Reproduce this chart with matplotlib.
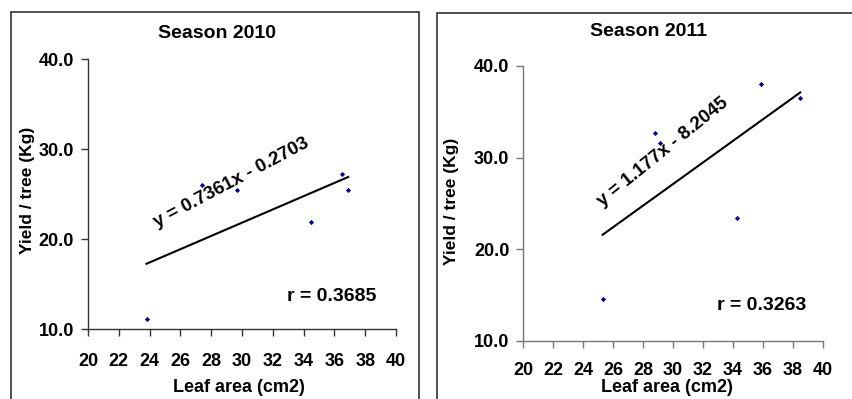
import matplotlib
matplotlib.use("Agg")
import matplotlib.pyplot as plt
from matplotlib.patches import Rectangle
import numpy as np

plt.rcParams['font.family'] = ['Liberation Sans', 'DejaVu Sans']
plt.rcParams['font.weight'] = 'bold'

# Data
x2010 = [23.8, 27.4, 29.65, 34.5, 36.5, 36.9]
y2010 = [11.1, 26.0, 25.5, 21.9, 27.2, 25.4]
x2011 = [25.3, 28.8, 29.1, 34.3, 35.9, 38.5]
y2011 = [14.5, 32.7, 31.6, 23.4, 38.0, 36.5]

slope2010, icpt2010 = 0.7361, -0.2703
slope2011, icpt2011 = 1.177, -8.2045
r2010, r2011 = "r = 0.3685", "r = 0.3263"
eq2010 = "y = 0.7361x - 0.2703"
eq2011 = "y = 1.177x - 8.2045"
titles = ["Season 2010", "Season 2011"]
xticks = list(range(20, 41, 2))
yticks = [10, 20, 30, 40]
xlabel = "Leaf area (cm2)"
ylabel = "Yield / tree (Kg)"

W, H = 853, 399
fig = plt.figure(figsize=(W / 100, H / 100), dpi=100)

# panel frames
fig.patches.append(Rectangle((11 / W, -0.05), (418.7 - 11) / W, 0.05 + 1 - 12 / H,
                             transform=fig.transFigure, fill=False,
                             edgecolor='#333333', linewidth=1.2))
fig.patches.append(Rectangle((436.7 / W, -0.05), 0.6, 0.05 + 1 - 13 / H,
                             transform=fig.transFigure, fill=False,
                             edgecolor='#333333', linewidth=1.2))

ax1 = fig.add_axes([88 / W, 1 - 329 / H, (396 - 88) / W, (329 - 59) / H])
ax2 = fig.add_axes([523.3 / W, 1 - 340.7 / H, (822.7 - 523.3) / W, (340.7 - 66) / H])

panels = [
    (ax1, x2010, y2010, slope2010, icpt2010, eq2010, r2010, titles[0],
     (29.33, 26.2), 28, (35.8, 13.6), (0.42, 1.096), (-0.195, 0.515), '#333333',
     (0.49, -0.215), 12),
    (ax2, x2011, y2011, slope2011, icpt2011, eq2011, r2011, titles[1],
     (29.35, 30.64), 39, (35.93, 13.8), (0.4165, 1.125), (-0.239, 0.509), '#777777',
     (0.48, -0.169), 10),
]

for (ax, xs, ys, m, b, eq, rtxt, title, eqpos, eqrot, rpos, tpos, ylpos, spc,
     xlpos, xpad) in panels:
    ax.scatter(xs, ys, marker='D', s=7, color='#000080', zorder=3, linewidths=0)
    xl = np.array([min(xs), max(xs)])
    ax.plot(xl, m * xl + b, color='black', linewidth=1.5, zorder=2)
    ax.set_xlim(20, 40)
    ax.set_ylim(10, 40)
    ax.set_xticks(xticks)
    ax.set_yticks(yticks)
    ax.set_yticklabels([f"{v:.1f}" for v in yticks])
    for s in ['top', 'right']:
        ax.spines[s].set_visible(False)
    for s in ['left', 'bottom']:
        ax.spines[s].set_color(spc)
        ax.spines[s].set_linewidth(1.0)
    ax.tick_params(axis='both', direction='out', length=5, width=1.0, color=spc,
                   labelsize=13)
    ax.tick_params(axis='x', pad=xpad)
    ax.tick_params(axis='y', pad=5)
    for lab in ax.get_xticklabels() + ax.get_yticklabels():
        lab.set_fontweight('bold')
    ax.patch.set_alpha(0)

    ax.text(eqpos[0], eqpos[1], eq, rotation=eqrot, rotation_mode='anchor',
            ha='center', va='center', fontsize=13.5, fontweight='bold')
    ax.text(rpos[0], rpos[1], rtxt, ha='center', va='center', fontsize=14,
            fontweight='bold')
    ax.text(tpos[0], tpos[1], title, transform=ax.transAxes, ha='center',
            va='center', fontsize=14, fontweight='bold')
    ax.set_xlabel(xlabel, fontsize=13, fontweight='bold')
    ax.xaxis.set_label_coords(xlpos[0], xlpos[1])
    ax.xaxis.label.set_va('center')
    ax.set_ylabel(ylabel, fontsize=12.5, fontweight='bold')
    ax.yaxis.set_label_coords(ylpos[0], ylpos[1])
    ax.yaxis.label.set_va('center')

fig.savefig("out.png", dpi=100)
